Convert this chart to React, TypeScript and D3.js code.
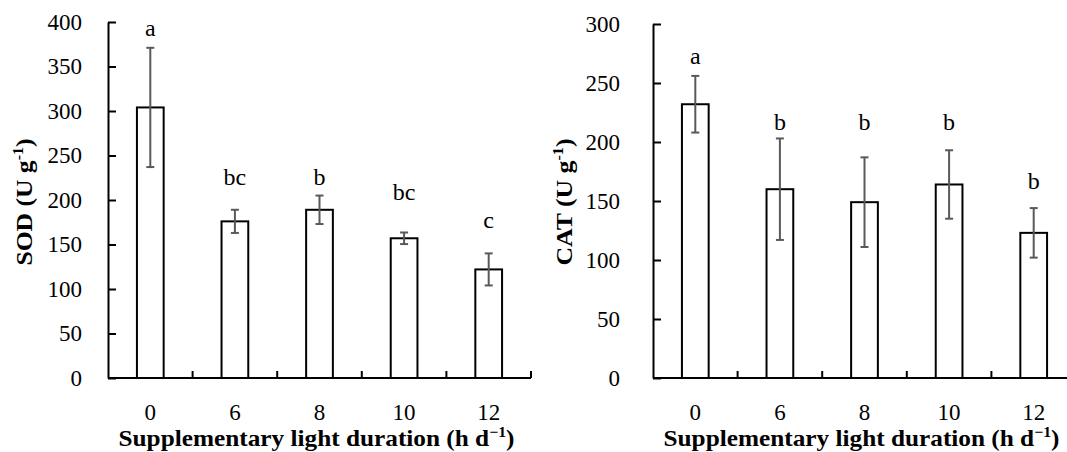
import React, { useRef, useEffect } from "react";
import * as d3 from "d3";

// treatment groups (h of supplementary light per day)
const durations = ["0", "6", "8", "10", "12"];

// SOD panel
const sodMeans = [304, 176, 189, 157, 122];
const sodErrors = [67, 13, 16, 6.5, 18];
const sodLetters = ["a", "bc", "b", "bc", "c"];
const sodLetterAt = [384, 217, 217, 200, 168];
const sodTicks = [0, 50, 100, 150, 200, 250, 300, 350, 400];

// CAT panel
const catMeans = [232, 160, 149, 164, 123];
const catErrors = [24, 43, 38, 29, 21];
const catLetters = ["a", "b", "b", "b", "b"];
const catLetterAt = [266, 210, 210, 210, 160];
const catTicks = [0, 50, 100, 150, 200, 250, 300];

const FONT = "Liberation Serif, DejaVu Serif, serif";

type Panel = {
  name: string;
  means: number[];
  errors: number[];
  letters: string[];
  letterAt: number[];
  ticks: number[];
  left: number;
  top: number;
  labelGap: number;
  titleX: number;
};

const drawPanel = (svg: any, p: Panel) => {
  const w = 423;
  const bottom = 378;
  const g = svg.append("g").attr("font-family", FONT);

  const x = d3.scaleBand()
    .domain(durations)
    .range([p.left, p.left + w])
    .paddingInner(0.684)
    .paddingOuter(0.342);
  const y = d3.scaleLinear()
    .domain([0, d3.max(p.ticks) as number])
    .range([bottom, p.top]);

  const rows = durations.map((d, i) => ({
    d, mean: p.means[i], err: p.errors[i], letter: p.letters[i], at: p.letterAt[i],
  }));

  // bars
  g.selectAll(".bar")
    .data(rows)
    .join("rect")
    .attr("x", (r: any) => x(r.d))
    .attr("y", (r: any) => y(r.mean))
    .attr("width", x.bandwidth())
    .attr("height", (r: any) => bottom - y(r.mean))
    .attr("fill", "white")
    .attr("stroke", "black")
    .attr("stroke-width", 2);

  // error bars
  const cx = (r: any) => (x(r.d) as number) + x.bandwidth() / 2;
  const eb = g.selectAll(".err").data(rows).join("g").attr("stroke", "#595959").attr("stroke-width", 2);
  eb.append("line")
    .attr("x1", cx).attr("x2", cx)
    .attr("y1", (r: any) => y(r.mean + r.err))
    .attr("y2", (r: any) => y(r.mean - r.err));
  eb.append("line")
    .attr("x1", (r: any) => cx(r) - 4).attr("x2", (r: any) => cx(r) + 4)
    .attr("y1", (r: any) => y(r.mean + r.err)).attr("y2", (r: any) => y(r.mean + r.err));
  eb.append("line")
    .attr("x1", (r: any) => cx(r) - 4).attr("x2", (r: any) => cx(r) + 4)
    .attr("y1", (r: any) => y(r.mean - r.err)).attr("y2", (r: any) => y(r.mean - r.err));

  // significance letters
  g.selectAll(".letter")
    .data(rows)
    .join("text")
    .attr("x", cx)
    .attr("y", (r: any) => y(r.at))
    .attr("text-anchor", "middle")
    .attr("font-size", 24)
    .text((r: any) => r.letter);

  // y axis, ticks inside
  const yAxis = d3.axisLeft(y)
    .tickValues(p.ticks)
    .tickSizeInner(-8)
    .tickSizeOuter(0)
    .tickPadding(p.labelGap);
  const ya = g.append("g").attr("transform", `translate(${p.left},0)`).call(yAxis);
  ya.attr("font-family", FONT).attr("font-size", 23);
  ya.select(".domain").attr("stroke", "black").attr("stroke-width", 2);
  ya.selectAll(".tick line").attr("stroke", "black").attr("stroke-width", 2);
  ya.selectAll(".tick text").attr("fill", "black");

  // x axis line with ticks between categories
  g.append("line")
    .attr("x1", p.left).attr("x2", p.left + w)
    .attr("y1", bottom).attr("y2", bottom)
    .attr("stroke", "black").attr("stroke-width", 2);
  g.selectAll(".xtick")
    .data(durations)
    .join("line")
    .attr("x1", (d: string) => (x(d) as number) + x.bandwidth() / 2 + x.step() / 2)
    .attr("x2", (d: string) => (x(d) as number) + x.bandwidth() / 2 + x.step() / 2)
    .attr("y1", bottom).attr("y2", bottom - 7)
    .attr("stroke", "black").attr("stroke-width", 2);
  g.selectAll(".xlab")
    .data(durations)
    .join("text")
    .attr("x", (d: string) => (x(d) as number) + x.bandwidth() / 2)
    .attr("y", 420)
    .attr("text-anchor", "middle")
    .attr("font-size", 23)
    .text((d: string) => d);

  // x title
  const xt = g.append("text")
    .attr("x", p.left + w / 2 - 3)
    .attr("y", 446)
    .attr("text-anchor", "middle")
    .attr("textLength", 396)
    .attr("lengthAdjust", "spacingAndGlyphs")
    .attr("font-size", 24)
    .attr("font-weight", "bold");
  xt.append("tspan").text("Supplementary light duration (h d");
  xt.append("tspan").attr("dy", -9).attr("font-size", 15).text("\u22121");
  xt.append("tspan").attr("dy", 9).text(")");

  // y title
  const yt = g.append("text")
    .attr("transform", `translate(${p.titleX},202) rotate(-90)`)
    .attr("text-anchor", "middle")
    .attr("textLength", 127)
    .attr("lengthAdjust", "spacingAndGlyphs")
    .attr("font-size", 24)
    .attr("font-weight", "bold");
  yt.append("tspan").text(`${p.name} (U g`);
  yt.append("tspan").attr("dy", -9).attr("font-size", 15).text("-1");
  yt.append("tspan").attr("dy", 9).text(")");
};

const App = () => {
  const ref = useRef<SVGSVGElement>(null);

  useEffect(() => {
    const svg = d3.select(ref.current);
    svg.selectAll("*").remove();

    drawPanel(svg, {
      name: "SOD", means: sodMeans, errors: sodErrors, letters: sodLetters,
      letterAt: sodLetterAt, ticks: sodTicks, left: 108, top: 22, labelGap: 26, titleX: 32,
    });
    drawPanel(svg, {
      name: "CAT", means: catMeans, errors: catErrors, letters: catLetters,
      letterAt: catLetterAt, ticks: catTicks, left: 653, top: 24, labelGap: 33, titleX: 572,
    });
  }, []);

  return (
    <svg
      ref={ref}
      width={1067}
      height={452}
      style={{ position: "absolute", left: 0, top: 0, background: "white" }}
    />
  );
};

export default App;
